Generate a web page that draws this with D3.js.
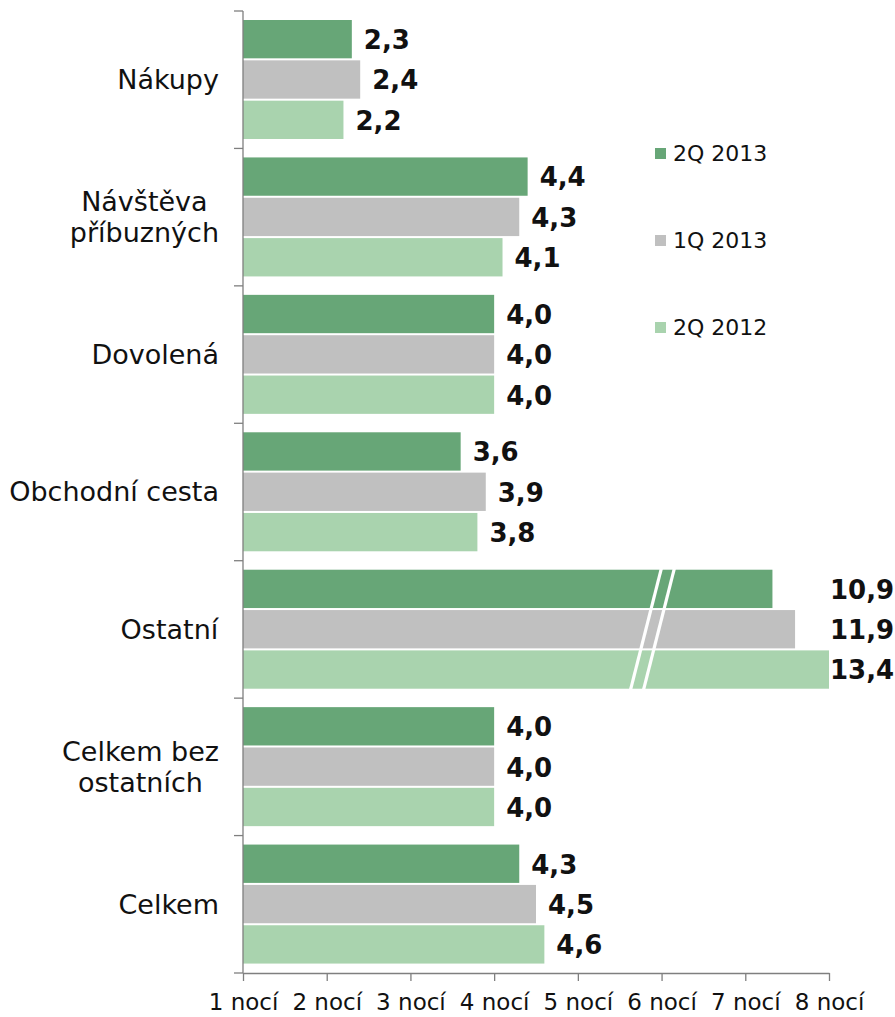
<!DOCTYPE html>
<html>
<head>
<meta charset="utf-8">
<script src="https://cdn.jsdelivr.net/npm/d3@7"></script>
<style>
  body { margin: 0; background: #fff; }
  text { font-family: "DejaVu Sans", Verdana, sans-serif; fill: #111; }
</style>
</head>
<body>
<svg id="chart" width="895" height="1017"></svg>
<script>
// data
var categories = ['Nákupy', 'Návštěva příbuzných', 'Dovolená', 'Obchodní cesta', 'Ostatní', 'Celkem bez ostatních', 'Celkem'];
var categoryLines = [['Nákupy'], ['Návštěva', 'příbuzných'], ['Dovolená'], ['Obchodní cesta'], ['Ostatní'], ['Celkem bez', 'ostatních'], ['Celkem']];
var seriesNames = ['2Q 2013', '1Q 2013', '2Q 2012'];
var seriesColors = ['#67a677', '#c0c0c0', '#a9d3ae'];
var q2_2013 = [2.3, 4.4, 4.0, 3.6, 10.9, 4.0, 4.3];
var q1_2013 = [2.4, 4.3, 4.0, 3.9, 11.9, 4.0, 4.5];
var q2_2012 = [2.2, 4.1, 4.0, 3.8, 13.4, 4.0, 4.6];
var tickValues = [1, 2, 3, 4, 5, 6, 7, 8];
var breakAt = 6;      // axis is broken above 6 nocí
var maxValue = 13.4;

var series = [q2_2013, q1_2013, q2_2012];

var margin = {left: 243, right: 66, top: 11, bottom: 44};
var W = 895, H = 1017;

var svg = d3.select('#chart');

// axis scale and the broken scale for bars
var xAxisScale = d3.scaleLinear().domain([1, 8]).range([margin.left, W - margin.right]);
var x = d3.scaleLinear()
  .domain([1, breakAt, maxValue])
  .range([xAxisScale(1), xAxisScale(breakAt), xAxisScale(8)]);

var y = d3.scaleBand().domain(categories).range([margin.top, H - margin.bottom]);
var inner = d3.scaleBand().domain(d3.range(3)).range([9, 128]).paddingInner(0.05);

var rows = [];
categories.forEach(function(c, ci) {
  series.forEach(function(s, si) {
    rows.push({cat: c, ci: ci, si: si, v: s[ci]});
  });
});

var fmt = function(v) { return d3.format('.1f')(v).replace('.', ','); };

// bars
svg.append('g').selectAll('rect')
  .data(rows)
  .enter()
  .append('rect')
  .attr('x', x(1))
  .attr('y', function(d) { return y(d.cat) + inner(d.si); })
  .attr('width', function(d) { return x(d.v) - x(1); })
  .attr('height', inner.bandwidth())
  .attr('fill', function(d) { return seriesColors[d.si]; });

// break marks on the bars that go past the axis
var broken = categories.filter(function(c, ci) {
  return series.some(function(s) { return s[ci] > 8; });
});
broken.forEach(function(c) {
  var top = y(c) + inner(0) - 2, bot = y(c) + inner(2) + inner.bandwidth() + 1;
  [0, 13].forEach(function(off) {
    svg.append('line')
      .attr('x1', x(breakAt) + off).attr('y1', top)
      .attr('x2', x(breakAt) + off - 31).attr('y2', bot)
      .attr('stroke', '#fff').attr('stroke-width', 3.2);
  });
});

// value labels
svg.append('g').selectAll('text')
  .data(rows)
  .enter()
  .append('text')
  .attr('x', function(d) {
    if (d.v > 8) return xAxisScale(8) + 1;
    return x(d.v) + 12;
  })
  .attr('y', function(d) { return y(d.cat) + inner(d.si) + inner.bandwidth() / 2; })
  .attr('dy', '0.38em')
  .style('font-size', '26px')
  .style('font-weight', 'bold')
  .text(function(d) { return fmt(d.v); });

// left axis: line with ticks at category boundaries
var axisCol = '#7f7f7f';
svg.append('line')
  .attr('x1', margin.left).attr('x2', margin.left)
  .attr('y1', margin.top).attr('y2', H - margin.bottom)
  .attr('stroke', axisCol).attr('stroke-width', 1.3);
var bounds = categories.map(function(c) { return y(c); }).concat([H - margin.bottom]);
svg.append('g').selectAll('line')
  .data(bounds)
  .enter()
  .append('line')
  .attr('x1', margin.left - 9).attr('x2', margin.left)
  .attr('y1', function(d) { return d; }).attr('y2', function(d) { return d; })
  .attr('stroke', axisCol).attr('stroke-width', 1.3);

// category labels, lines centred, block right-aligned
var labelG = svg.append('g');
categories.forEach(function(c, ci) {
  var lines = categoryLines[ci];
  var cy = y(c) + y.bandwidth() / 2;
  var t = labelG.append('text')
    .style('font-size', '27px')
    .attr('text-anchor', 'middle');
  lines.forEach(function(l, li) {
    t.append('tspan')
      .attr('x', 0)
      .attr('y', cy + (li - (lines.length - 1) / 2) * 31)
      .attr('dy', '0.35em')
      .text(l);
  });
  var w = t.node().getBBox().width;
  t.selectAll('tspan').attr('x', 219 - w / 2);
});

// bottom axis
var xAxis = d3.axisBottom(xAxisScale)
  .tickValues(tickValues)
  .tickFormat(function(d) { return d + ' nocí'; })
  .tickSize(8)
  .tickPadding(13)
  .tickSizeOuter(0);
var ax = svg.append('g')
  .attr('transform', 'translate(0,' + (H - margin.bottom) + ')')
  .call(xAxis);
ax.select('.domain').attr('stroke', axisCol).attr('stroke-width', 1.3);
ax.selectAll('.tick line').attr('stroke', axisCol).attr('stroke-width', 1.3);
ax.selectAll('.tick text')
  .style('font-family', '"DejaVu Sans", Verdana, sans-serif')
  .style('font-size', '23px')
  .attr('fill', '#111');

// legend
var legend = svg.append('g').selectAll('g')
  .data(seriesNames)
  .enter()
  .append('g')
  .attr('transform', function(d, i) { return 'translate(655,' + (153 + i * 87) + ')'; });
legend.append('rect')
  .attr('x', 0).attr('y', -5)
  .attr('width', 11).attr('height', 11)
  .attr('fill', function(d, i) { return seriesColors[i]; });
legend.append('text')
  .attr('x', 18)
  .attr('dy', '0.35em')
  .style('font-size', '22px')
  .attr('fill', '#222')
  .text(function(d) { return d; });
</script>
</body>
</html>
